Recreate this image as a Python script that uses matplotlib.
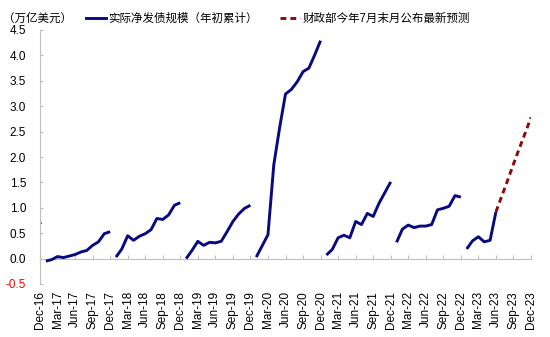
import numpy as np
import matplotlib
matplotlib.use("Agg")
import matplotlib.pyplot as plt
from matplotlib.lines import Line2D

plt.rcParams['font.family'] = ['Liberation Sans', 'Noto Sans CJK SC', 'DejaVu Sans']

# ---- data (cumulative net issuance since start of year, trillion USD) ----
years = [2016, 2017, 2018, 2019, 2020, 2021, 2022, 2023]
v2016 = [0.62, 0.70]  # Nov-16, Dec-16 (only the Dec point is within view)
v2017 = [-0.05, -0.02, 0.04, 0.02, 0.05, 0.08, 0.13, 0.16, 0.26, 0.33, 0.49, 0.53]
v2018 = [0.03, 0.19, 0.45, 0.36, 0.44, 0.49, 0.57, 0.79, 0.77, 0.86, 1.05, 1.10]
v2019 = [0.00, 0.16, 0.34, 0.26, 0.32, 0.31, 0.34, 0.53, 0.73, 0.88, 0.99, 1.05]
v2020 = [0.03, 0.25, 0.47, 1.85, 2.58, 3.24, 3.33, 3.48, 3.68, 3.75, 4.01, 4.29]
v2021 = [0.07, 0.18, 0.41, 0.46, 0.41, 0.73, 0.67, 0.89, 0.83, 1.09, 1.30, 1.51]
v2022 = [0.32, 0.58, 0.66, 0.61, 0.64, 0.64, 0.67, 0.96, 0.99, 1.03, 1.24, 1.21]
v2023 = [0.19, 0.35, 0.43, 0.33, 0.36, 0.92]               # Jan-23 .. Jun-23
forecast2023 = [0.92, 1.23, 1.54, 1.86, 2.17, 2.47, 2.78]  # Jun-23 .. Dec-23 (Treasury projection)

tick_labels = ['Dec-16', 'Mar-17', 'Jun-17', 'Sep-17', 'Dec-17', 'Mar-18', 'Jun-18', 'Sep-18',
               'Dec-18', 'Mar-19', 'Jun-19', 'Sep-19', 'Dec-19', 'Mar-20', 'Jun-20', 'Sep-20',
               'Dec-20', 'Mar-21', 'Jun-21', 'Sep-21', 'Dec-21', 'Mar-22', 'Jun-22', 'Sep-22',
               'Dec-22', 'Mar-23', 'Jun-23', 'Sep-23', 'Dec-23']
y_ticks = [-0.5, 0.0, 0.5, 1.0, 1.5, 2.0, 2.5, 3.0, 3.5, 4.0, 4.5]

label_actual = '实际净发债规模（年初累计）'
label_fc = '财政部今年7月末月公布最新预测'
unit_label = '（万亿美元）'

navy = '#0A0A80'
dred = '#8B0A0A'
gray = '#BFBFBF'

# month index: 0 = Dec-16
def months_for_year(year, n, start_month=1):
    return np.arange(n) + (year - 2017) * 12 + start_month

fig = plt.figure(figsize=(5.5, 3.37), dpi=100)
ax = fig.add_axes([40 / 550, 53 / 337, 491 / 550, 254 / 337])

lw = 2.1
dash = (0, (2.0, 1.4))
ax.plot(months_for_year(2016, len(v2016), start_month=11), v2016, color=navy, lw=lw)
for yr, vals in zip(years[1:-1], [v2017, v2018, v2019, v2020, v2021, v2022]):
    ax.plot(months_for_year(yr, len(vals)), vals, color=navy, lw=lw, solid_capstyle='butt')
ax.plot(months_for_year(2023, len(v2023)), v2023, color=navy, lw=lw, solid_capstyle='butt')
ax.plot(months_for_year(2023, len(forecast2023), start_month=6), forecast2023,
        color=dred, lw=lw, ls=dash, dash_capstyle='butt')

ax.set_xlim(0, 84)
ax.set_ylim(-0.5, 4.5)

# y axis
ax.set_yticks(y_ticks)
ax.set_yticklabels([f'{v:.1f}' for v in y_ticks], fontsize=8.5)
ax.tick_params(axis='y', direction='in', length=2, width=0.8, pad=10, color=gray)
for lab, v in zip(ax.get_yticklabels(), y_ticks):
    lab.set_color('red' if v < 0 else 'black')

# x axis (labels at the bottom)
qpos = np.arange(len(tick_labels)) * 3
ax.set_xticks(qpos)
ax.set_xticklabels(tick_labels, rotation=90, fontsize=8.5)
ax.tick_params(axis='x', length=0, pad=5)

for s in ['top', 'right', 'bottom']:
    ax.spines[s].set_visible(False)
ax.spines['left'].set_color(gray)
ax.spines['left'].set_linewidth(0.8)

# zero line with inward quarterly ticks
sec = ax.secondary_xaxis(0.1)
sec.set_xticks(qpos)
sec.set_xticklabels([])
sec.tick_params(direction='in', length=3, color=gray, width=0.8)
sec.spines['bottom'].set_color(gray)
sec.spines['bottom'].set_linewidth(0.8)

# legend and unit
fs_leg = 8.3
fig.text(3 / 550, 1 - 19 / 337, unit_label, fontsize=fs_leg, va='center', ha='left')
handles = [Line2D([], [], color=navy, lw=lw),
           Line2D([], [], color=dred, lw=lw, ls=dash)]
fig.legend(handles, [label_actual, label_fc], ncol=2, frameon=False, fontsize=fs_leg,
           loc='center left', bbox_to_anchor=(86 / 550, 1 - 19 / 337),
           handlelength=1.75, handletextpad=0.2, columnspacing=1.9, borderaxespad=0, borderpad=0)

fig.savefig('out.png', dpi=100)
